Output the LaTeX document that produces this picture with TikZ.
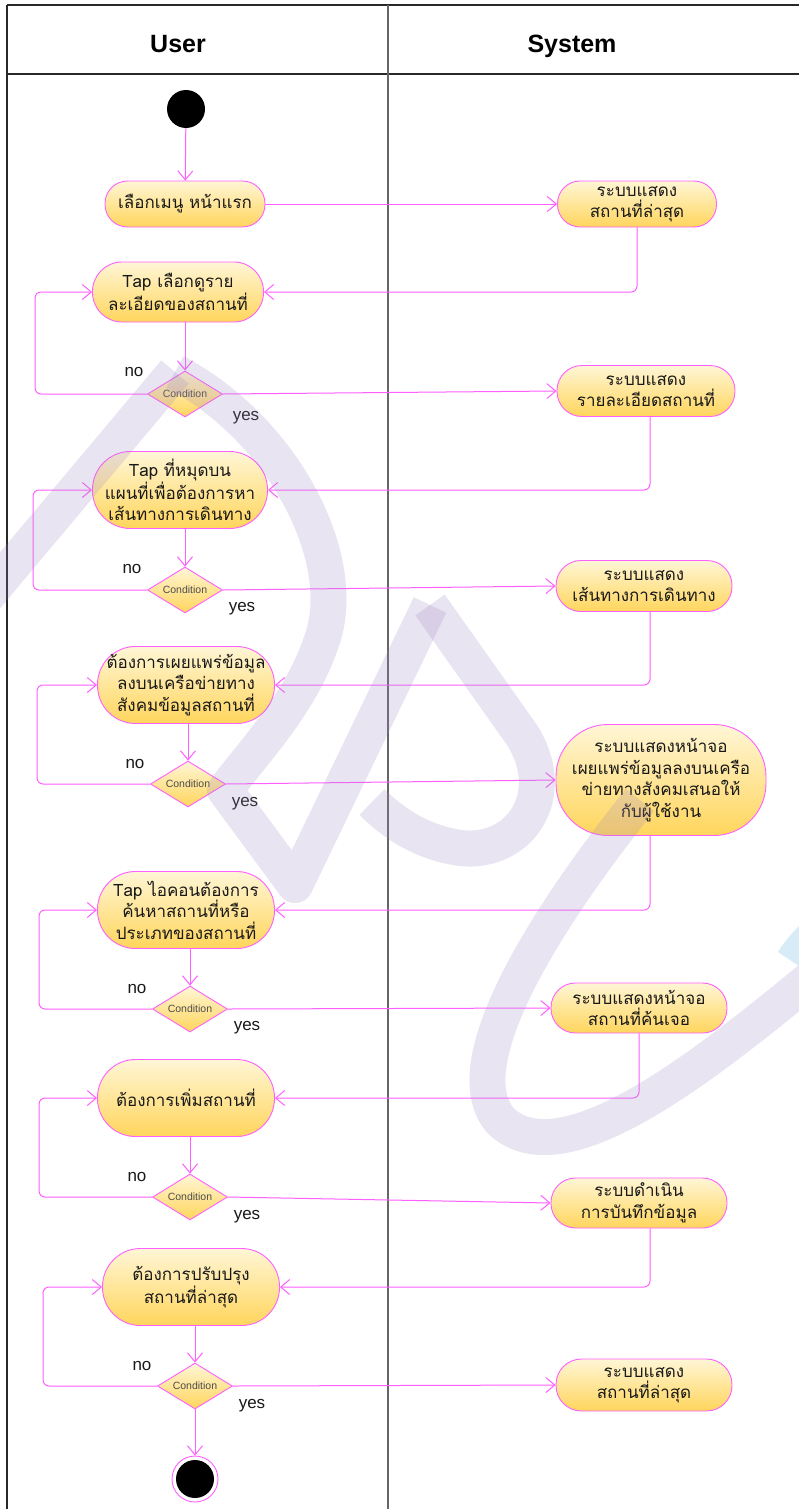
\documentclass[tikz,border=0pt]{standalone}
\usepackage{fontspec}
\setmainfont{Liberation Sans}
\newfontfamily\thai[Script=Thai]{Loma}
\usetikzlibrary{shapes.geometric,arrows.meta}
\definecolor{mag}{RGB}{255,95,255}
\definecolor{ntop}{RGB}{255,246,214}
\definecolor{nbot}{RGB}{255,213,92}
\definecolor{txt}{RGB}{25,25,25}
\definecolor{lane}{RGB}{40,40,40}
\definecolor{wm}{RGB}{158,135,192}
\definecolor{wmblue}{RGB}{205,232,246}
\tikzset{
  act/.style={rectangle, rounded corners=#1, draw=mag, line width=0.9pt, top color=ntop, bottom color=nbot,
    align=center, text=txt, inner sep=1pt, font=\thai\fontsize{17}{21.5}\selectfont},
  act/.default=22.5pt,
  cond/.style={diamond, draw=mag, line width=0.9pt, top color=ntop, bottom color=nbot,
    shape aspect=1.65, inner sep=0pt, minimum width=75pt, minimum height=46pt,
    text=black!70, font=\fontsize{10.5}{12}\selectfont},
  flow/.style={draw=mag, line width=1pt, rounded corners=6pt,
    -{Straight Barb[length=9pt,width=15pt]}},
  lbl/.style={font=\fontsize{17}{20}\selectfont, text=txt, inner sep=0pt},
  head/.style={font=\bfseries\fontsize{25}{28}\selectfont, text=black, inner sep=0pt},
  wmark/.style={draw=wm, draw opacity=0.22, line width=36pt, line join=round}
}
\begin{document}
\begin{tikzpicture}[x=1pt,y=-1pt]
\useasboundingbox (0,0) rectangle (799,1509);
\fill[white] (0,0) rectangle (799,1509);
% swimlane frame
\draw[lane, line width=1.3pt] (7,5) -- (799,5);
\draw[lane, line width=1.3pt] (7,74) -- (799,74);
\draw[lane, line width=1.3pt] (7,5) -- (7,1509);
\draw[black!60, line width=1.3pt] (388,5) -- (388,1509);
\node[head] (huser) at (178,44) {User};
\node[head] (hsys) at (572,46) {System};

% user lane
\node[circle, fill=black, minimum size=38pt, inner sep=0pt] (start) at (186,109) {};
\node[act=22.5pt, minimum width=160pt, minimum height=46pt] (u1) at (185,204) {เลือกเมนู หน้าแรก};
\node[act=29.5pt, minimum width=171pt, minimum height=60pt] (u2) at (178,292) {Tap เลือกดูราย\\ละเอียดของสถานที่};
\node[cond] (d1) at (185,394) {Condition};
\node[act=38pt, minimum width=175pt, minimum height=77pt] (u3) at (180,490) {Tap ที่หมุดบน\\แผนที่เพื่อต้องการหา\\เส้นทางการเดินทาง};
\node[cond] (d2) at (185,590) {Condition};
\node[act=38pt, minimum width=177pt, minimum height=77pt] (u4) at (186,685) {ต้องการเผยแพร่ข้อมูล\\ลงบนเครือข่ายทาง\\สังคมข้อมูลสถานที่};
\node[cond] (d3) at (188,784) {Condition};
\node[act=38pt, minimum width=177pt, minimum height=77pt] (u5) at (186,910) {Tap ไอคอนต้องการ\\ค้นหาสถานที่หรือ\\ประเภทของสถานที่};
\node[cond] (d4) at (190,1009) {Condition};
\node[act=38pt, minimum width=177pt, minimum height=77pt] (u6) at (186,1098) {ต้องการเพิ่มสถานที่};
\node[cond] (d5) at (190,1197) {Condition};
\node[act=38pt, minimum width=177pt, minimum height=77pt] (u7) at (191,1287) {ต้องการปรับปรุง\\สถานที่ล่าสุด};
\node[cond] (d6) at (195,1386) {Condition};
\node[circle, draw=mag, line width=0.9pt, fill=white, minimum size=46pt, inner sep=0pt,
  path picture={\fill[black] (path picture bounding box.center) circle (19pt);}] (end) at (195,1479) {};

% system lane
\node[act=22.5pt, minimum width=159pt, minimum height=46pt] (s1) at (637,204) {ระบบแสดง\\สถานที่ล่าสุด};
\node[act=25pt, minimum width=178pt, minimum height=51pt] (s2) at (646,391) {ระบบแสดง\\รายละเอียดสถานที่};
\node[act=25pt, minimum width=176pt, minimum height=51pt] (s3) at (644,586) {ระบบแสดง\\เส้นทางการเดินทาง};
\node[act=52pt, minimum width=210pt, minimum height=111pt] (s4) at (661,780) {ระบบแสดงหน้าจอ\\เผยแพร่ข้อมูลลงบนเครือ\\ข่ายทางสังคมเสนอให้\\กับผู้ใช้งาน};
\node[act=24.5pt, minimum width=176pt, minimum height=50pt] (s5) at (639,1008) {ระบบแสดงหน้าจอ\\สถานที่ค้นเจอ};
\node[act=24.5pt, minimum width=176pt, minimum height=50pt] (s6) at (639,1203) {ระบบดำเนิน\\การบันทึกข้อมูล};
\node[act=25.5pt, minimum width=176pt, minimum height=52pt] (s7) at (644,1385) {ระบบแสดง\\สถานที่ล่าสุด};

% labels
\node[lbl] (n1) at (134,372) {no};
\node[lbl] (n2) at (132,569) {no};
\node[lbl] (n3) at (135,764) {no};
\node[lbl] (n4) at (137,989) {no};
\node[lbl] (n5) at (137,1177) {no};
\node[lbl] (n6) at (142,1366) {no};
\node[lbl] (y1) at (246,418) {yes};
\node[lbl] (y2) at (242,609) {yes};
\node[lbl] (y3) at (245,804) {yes};
\node[lbl] (y4) at (247,1028) {yes};
\node[lbl] (y5) at (247,1217) {yes};
\node[lbl] (y6) at (252,1406) {yes};

% connectors
\draw[flow] (start) -- (u1);
\draw[flow] (u1.east) -- (s1.west);
\draw[flow] (s1.south) |- (u2.east);
\draw[flow] (d1.north |- u2.south) -- (d1.north);
\draw[flow] (d1.west) -- ++(-112,0) |- (u2.west);
\draw[flow] (d1.east) -- (s2.west);
\draw[flow] ([xshift=4pt]s2.south) |- (u3.east);
\draw[flow] (d2.north |- u3.south) -- (d2.north);
\draw[flow] (d2.west) -- ++(-114,0) |- (u3.west);
\draw[flow] (d2.east) -- (s3.west);
\draw[flow] ([xshift=6pt]s3.south) |- (u4.east);
\draw[flow] (d3.north |- u4.south) -- (d3.north);
\draw[flow] (d3.west) -- ++(-113,0) |- (u4.west);
\draw[flow] (d3.east) -- (s4.west);
\draw[flow] ([xshift=-11pt]s4.south) |- (u5.east);
\draw[flow] (d4.north |- u5.south) -- (d4.north);
\draw[flow] (d4.west) -- ++(-113,0) |- (u5.west);
\draw[flow] (d4.east) -- (s5.west);
\draw[flow] (s5.south) |- (u6.east);
\draw[flow] (d5.north |- u6.south) -- (d5.north);
\draw[flow] (d5.west) -- ++(-113,0) |- (u6.west);
\draw[flow] (d5.east) -- (s6.west);
\draw[flow] ([xshift=11pt]s6.south) |- (u7.east);
\draw[flow] (d6.north |- u7.south) -- (d6.north);
\draw[flow] (d6.west) -- ++(-114,0) |- (u7.west);
\draw[flow] (d6.east) -- (s7.west);
\draw[flow] (d6.south) -- (end.north);

% watermark (faint logo)
\draw[wmark] (-40,628) -- (175,372);
\draw[wmark] (175,372) .. controls (285,430) and (350,560) .. (322,640) .. controls (302,700) and (262,742) .. (225,790) -- (295,885) -- (430,605);
\draw[wmark] (430,605) -- (522,735) .. controls (560,795) and (520,855) .. (460,848) .. controls (420,842) and (392,822) .. (372,802);
\draw[wmark] (640,800) .. controls (560,900) and (450,1060) .. (500,1120) .. controls (560,1180) and (700,1070) .. (815,975);
\fill[wmblue, opacity=0.8] (799,926) .. controls (790,935) and (782,945) .. (778,952) -- (799,966) -- cycle;
\end{tikzpicture}
\end{document}
